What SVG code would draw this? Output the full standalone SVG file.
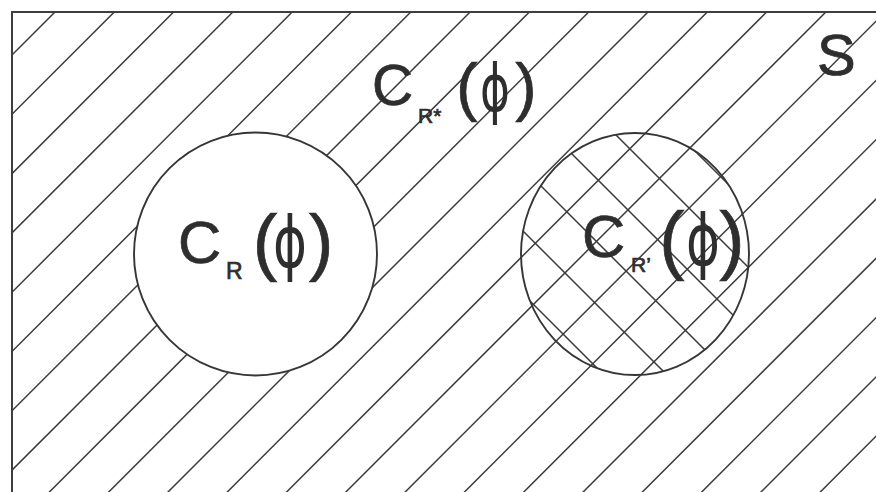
<svg xmlns="http://www.w3.org/2000/svg" width="876" height="492" viewBox="0 0 876 492">
<style>
.ln{fill:none;stroke:#3c3c3c;stroke-width:1.5}
.ol{stroke:#363636;stroke-width:1.9}
.t{font-family:"Liberation Sans",Arial,sans-serif;fill:#2e2e2e;stroke:#2e2e2e;stroke-width:0.7}
.phi{font-family:"DejaVu Sans",sans-serif;stroke-width:0}
</style>
<defs>
<clipPath id="clipS"><rect x="12" y="12" width="900" height="510"/></clipPath>
<clipPath id="clipRp"><ellipse cx="635" cy="254" rx="114" ry="121"/></clipPath>
</defs>
<rect width="876" height="492" fill="#ffffff"/>
<g id="set-S">
<rect x="12" y="12" width="900" height="510" fill="none" class="ol"/>
<path class="ln" clip-path="url(#clipS)" d="M55 12l-508 508M114.3 12l-508 508M173.6 12l-508 508M232.9 12l-508 508M292.2 12l-508 508M351.5 12l-508 508M410.8 12l-508 508M470.1 12l-508 508M529.4 12l-508 508M588.7 12l-508 508M648 12l-508 508M707.3 12l-508 508M766.6 12l-508 508M825.9 12l-508 508M885.2 12l-508 508M944.5 12l-508 508M1003.8 12l-508 508M1063.1 12l-508 508M1122.4 12l-508 508M1181.7 12l-508 508M1241 12l-508 508M1300.3 12l-508 508M1359.6 12l-508 508M1418.9 12l-508 508"/>
<text class="t" x="817" y="75" font-size="58">S</text>
</g>
<g id="label-Rstar">
<text class="t"><tspan x="372" y="105" font-size="57">C</tspan><tspan x="418" y="123" font-size="21">R*</tspan><tspan x="467" y="109" font-size="64" text-anchor="middle">(</tspan><tspan class="phi" x="495" y="111" font-size="66" text-anchor="middle" textLength="30" lengthAdjust="spacingAndGlyphs">ϕ</tspan><tspan x="526" y="109" font-size="64" text-anchor="middle">)</tspan></text>
</g>
<g id="circle-R">
<circle cx="255.5" cy="254" r="121.5" fill="#ffffff" class="ol"/>
<text class="t"><tspan x="178" y="263" font-size="60">C</tspan><tspan x="226" y="279" font-size="23">R</tspan><tspan x="265" y="267" font-size="74" text-anchor="middle">(</tspan><tspan class="phi" x="290" y="267" font-size="71" text-anchor="middle" textLength="34" lengthAdjust="spacingAndGlyphs">ϕ</tspan><tspan x="321" y="267" font-size="74" text-anchor="middle">)</tspan></text>
</g>
<g id="circle-Rprime">
<path class="ln" clip-path="url(#clipRp)" d="M329 100l300 300M392 100l300 300M455 100l300 300M518 100l300 300M581 100l300 300M644 100l300 300"/>
<ellipse cx="635" cy="254" rx="114" ry="121" fill="none" class="ol"/>
<text class="t"><tspan x="582" y="257" font-size="60">C</tspan><tspan x="631" y="272" font-size="21">R’</tspan><tspan x="672" y="265" font-size="76" text-anchor="middle">(</tspan><tspan class="phi" x="703" y="265" font-size="71" text-anchor="middle" textLength="34" lengthAdjust="spacingAndGlyphs">ϕ</tspan><tspan x="732" y="265" font-size="76" text-anchor="middle">)</tspan></text>
</g>
</svg>
